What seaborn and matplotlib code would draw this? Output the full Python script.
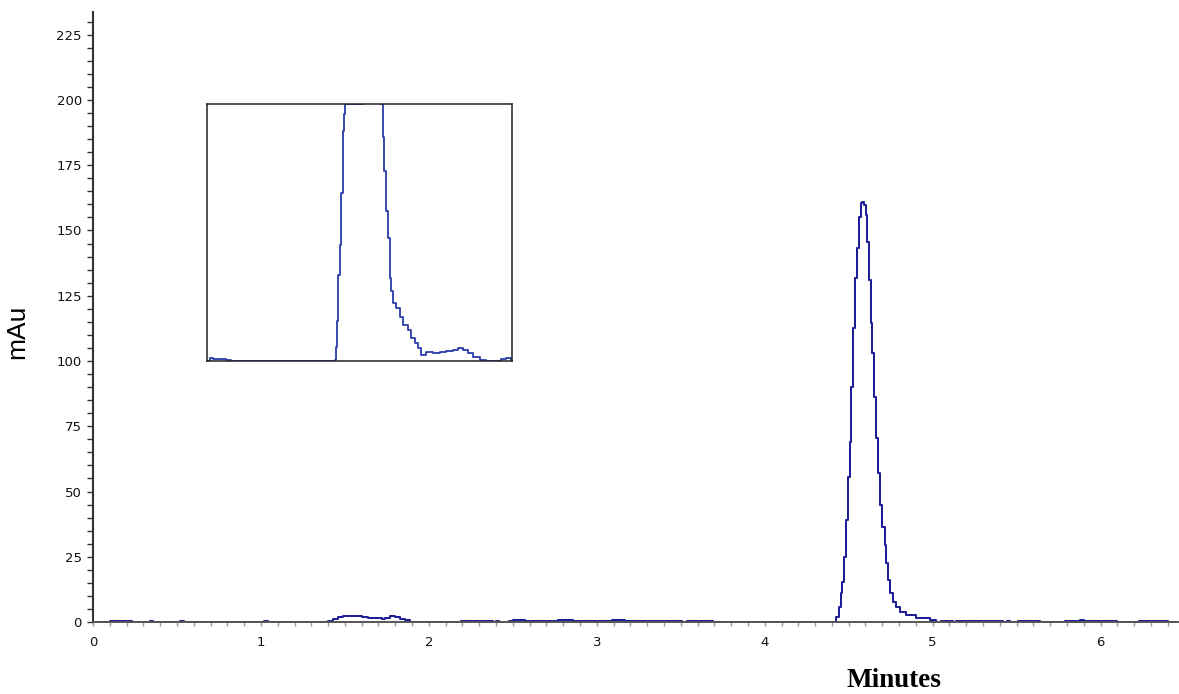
import matplotlib
matplotlib.use("Agg")
import matplotlib.pyplot as plt
from matplotlib.ticker import MultipleLocator, FuncFormatter
import seaborn as sns
import pandas as pd

# Chromatogram trace (minutes, mAu); held as steps from each sample to the next
time_min = [
    0.00, 0.10, 0.23, 0.34, 0.36, 0.52, 0.54, 1.02, 1.04,
    1.40, 1.43, 1.46, 1.49, 1.60, 1.64, 1.68, 1.72, 1.74, 1.77, 1.80, 1.83, 1.86, 1.89,
    2.19, 2.26, 2.27, 2.38, 2.40, 2.42, 2.48, 2.50, 2.57, 2.77, 2.79, 2.86,
    3.08, 3.09, 3.17, 3.51, 3.54, 3.69,
    4.407, 4.426, 4.442, 4.456, 4.462, 4.472, 4.486, 4.498, 4.506, 4.516, 4.526,
    4.540, 4.552, 4.562, 4.571, 4.581, 4.591, 4.601, 4.611, 4.619, 4.631, 4.641,
    4.653, 4.665, 4.677, 4.689, 4.700, 4.714, 4.724, 4.734, 4.748, 4.764, 4.784,
    4.804, 4.843, 4.903, 4.982, 5.022,
    5.05, 5.12, 5.14, 5.42, 5.44, 5.46, 5.51, 5.64, 5.79, 5.88, 5.90, 6.10,
    6.23, 6.40, 6.46,
]
absorbance_mau = [
    0.0, 0.4, 0.0, 0.4, 0.0, 0.4, 0.0, 0.4, 0.0,
    0.5, 1.0, 1.8, 2.4, 2.1, 1.7, 1.4, 1.0, 1.6, 2.2, 1.8, 1.3, 0.6, 0.0,
    0.4, 0.0, 0.4, 0.0, 0.4, 0.0, 0.4, 0.9, 0.4, 0.6, 0.9, 0.4,
    0.4, 0.9, 0.4, 0.0, 0.4, 0.0,
    0.0, 2.0, 5.9, 11.0, 15.4, 25.0, 39.1, 55.7, 69.1, 90.2, 112.5,
    131.7, 143.2, 155.3, 160.4, 161.0, 159.8, 155.9, 145.7, 131.0, 114.4, 102.9,
    86.3, 70.4, 57.0, 44.8, 36.5, 29.5, 22.5, 16.1, 11.0, 7.8, 5.9,
    3.9, 2.7, 1.4, 0.8, 0.0,
    0.4, 0.0, 0.4, 0.0, 0.4, 0.0, 0.4, 0.0, 0.4, 0.7, 0.4, 0.0,
    0.4, 0.0, 0.0,
]

# Magnified view of the early eluting region (relative scale)
inset_time = [
    1.000, 1.009, 1.020, 1.063, 1.080, 1.413, 1.419, 1.424, 1.427, 1.430, 1.435,
    1.440, 1.446, 1.449, 1.451, 1.511, 1.572, 1.577, 1.580, 1.586, 1.593, 1.599,
    1.604, 1.610, 1.621, 1.632, 1.643, 1.659, 1.670, 1.681, 1.692, 1.703, 1.719,
    1.741, 1.763, 1.785, 1.807, 1.823, 1.839, 1.856, 1.872, 1.894, 1.916, 1.949,
    1.965, 1.981, 1.998,
]
inset_signal = [
    0.000, 0.010, 0.008, 0.004, 0.000, 0.000, 0.004, 0.056, 0.154, 0.336, 0.453,
    0.655, 0.896, 0.961, 1.000, 3.000, 1.000, 0.870, 0.740, 0.583, 0.479, 0.323,
    0.271, 0.225, 0.206, 0.173, 0.141, 0.121, 0.089, 0.069, 0.049, 0.023, 0.036,
    0.033, 0.036, 0.039, 0.043, 0.049, 0.043, 0.030, 0.017, 0.004, 0.000, 0.000,
    0.008, 0.010, 0.004,
]

y_ticks = [0, 25, 50, 75, 100, 125, 150, 175, 200, 225]
x_ticks = [0, 1, 2, 3, 4, 5, 6]

sns.set_theme(style="white")
plt.rcParams["font.family"] = ["DejaVu Sans"]

trace_color = "#1e1e96"
axis_color = "#333333"

fig = plt.figure(figsize=(11.79, 6.94), dpi=100)
ax = fig.add_axes([0.0789, 0.1037, 0.9201, 0.8790])

main_df = pd.DataFrame({"Minutes": time_min, "mAu": absorbance_mau})
sns.lineplot(data=main_df, x="Minutes", y="mAu", ax=ax, color=trace_color,
             linewidth=1.45, drawstyle="steps-post", estimator=None, sort=False)

ax.set_xlim(0, 6.46)
ax.set_ylim(0, 233.7)

for side in ("top", "right"):
    ax.spines[side].set_visible(False)
ax.spines["left"].set_color(axis_color)
ax.spines["left"].set_linewidth(1.5)
ax.spines["bottom"].set_color("#555555")
ax.spines["bottom"].set_linewidth(1.4)

ax.set_yticks(y_ticks)
ax.yaxis.set_minor_locator(MultipleLocator(5))
ax.set_xticks(x_ticks)
ax.xaxis.set_minor_locator(MultipleLocator(0.1))
ax.xaxis.set_major_formatter(FuncFormatter(lambda v, p: f"{v:g}"))

ax.tick_params(axis="y", which="both", direction="out", length=4, width=1,
               color=axis_color, labelsize=9.5, pad=4, left=True)
ax.tick_params(axis="x", which="major", direction="out", length=3, width=1,
               color="#999999", labelsize=9.5, pad=7, bottom=True)
ax.tick_params(axis="x", which="minor", direction="out", length=3, width=1,
               color="#999999", bottom=True)
for lab in ax.get_xticklabels() + ax.get_yticklabels():
    lab.set_color("#111111")

ax.set_ylabel("mAu", fontsize=19, color="black",
              family=["Liberation Sans", "DejaVu Sans"])
ax.yaxis.set_label_coords(-0.059, 0.475)
ax.set_xlabel("Minutes", fontsize=19.5, fontweight="bold", color="black",
              family=["Liberation Serif", "DejaVu Serif"])
ax.xaxis.set_label_coords(0.738, -0.076)

# Inset box
axin = fig.add_axes([0.1756, 0.4798, 0.2587, 0.3703])
inset_df = pd.DataFrame({"t": inset_time, "s": inset_signal})
sns.lineplot(data=inset_df, x="t", y="s", ax=axin, color="#2a3ca8",
             linewidth=1.3, drawstyle="steps-post", estimator=None, sort=False)
axin.set_xlim(1.0, 2.0)
axin.set_ylim(0, 1.0)
axin.set_xticks([])
axin.set_yticks([])
axin.set_xlabel("")
axin.set_ylabel("")
for sp in axin.spines.values():
    sp.set_visible(True)
    sp.set_color("#222222")
    sp.set_linewidth(1.1)

fig.savefig("out.png", dpi=100)
